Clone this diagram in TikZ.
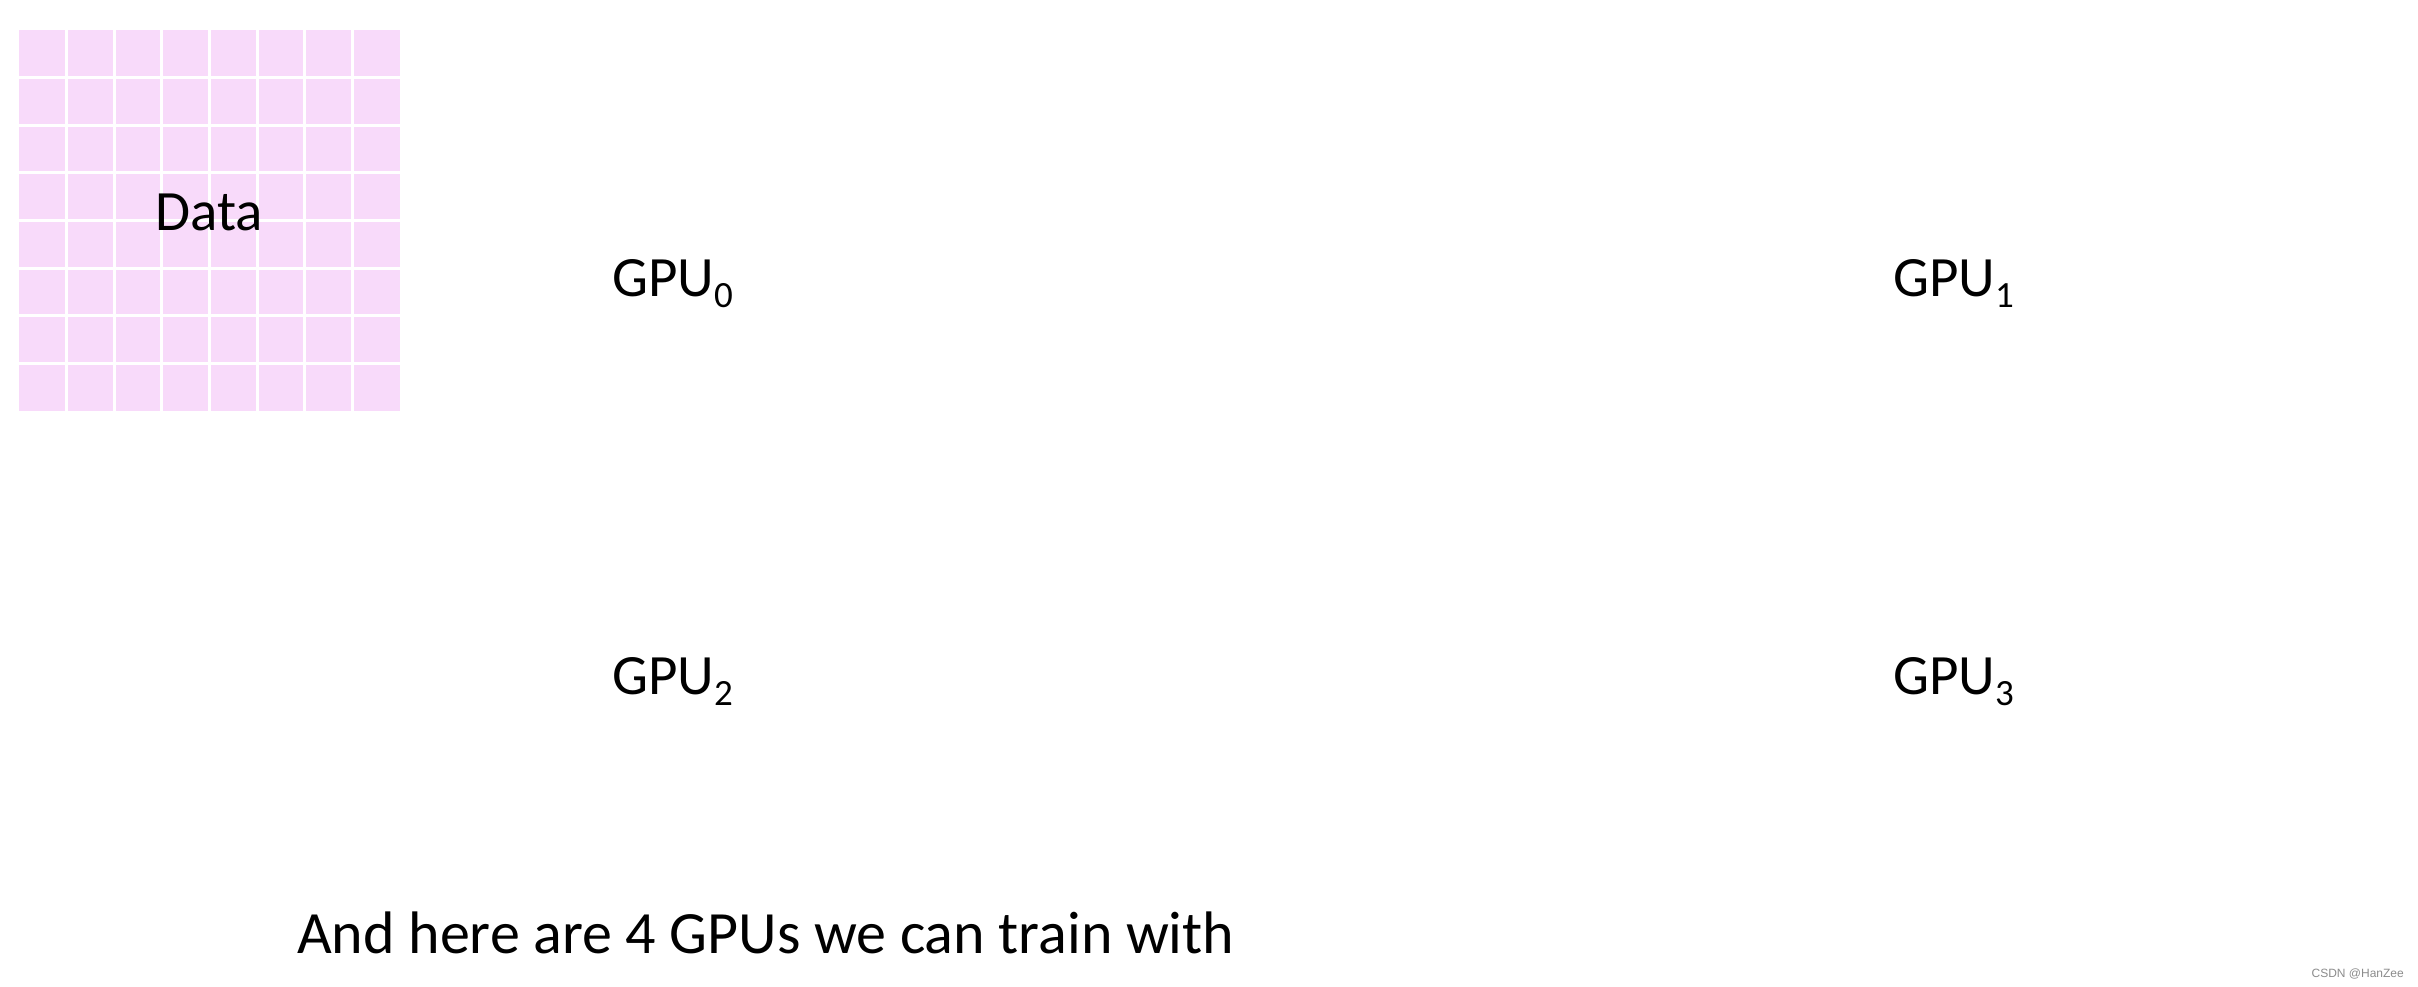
\documentclass[tikz,border=0pt]{standalone}
\usepackage{fontspec}
\setmainfont{Carlito}
\newfontfamily\wmfont{Liberation Sans}
\definecolor{datapink}{RGB}{248,218,250}
\definecolor{wmgray}{RGB}{140,140,140}
\newcommand{\gpulabel}[1]{GPU\raisebox{-11pt}{\fontsize{37}{40}\selectfont #1}}
\tikzset{
  gputxt/.style={anchor=base west, inner sep=0pt, font=\fontsize{57}{68}\selectfont},
  datatxt/.style={anchor=base, inner sep=0pt, font=\fontsize{57}{68}\selectfont},
  captxt/.style={anchor=base west, inner sep=0pt, font=\fontsize{60}{72}\selectfont},
  wmtxt/.style={anchor=base east, inner sep=0pt, text=wmgray, font=\wmfont\fontsize{12}{14}\selectfont},
}
\begin{document}
\begin{tikzpicture}[x=1pt,y=-1pt]
\useasboundingbox[fill=white] (0,0) rectangle (2418,986);
% data grid
\fill[datapink] (19,30) rectangle (400,411);
\foreach \k in {1,...,7}{
  \draw[white, line width=3pt] ({19+\k*47.625},30) -- ({19+\k*47.625},411);
  \draw[white, line width=3pt] (19,{30+\k*47.625}) -- (400,{30+\k*47.625});
}
\node[datatxt] (data) at (209.5,230) {Data};
\node[gputxt] (gpu0) at (612,296) {\gpulabel{0}};
\node[gputxt] (gpu1) at (1893,296) {\gpulabel{1}};
\node[gputxt] (gpu2) at (612,694) {\gpulabel{2}};
\node[gputxt] (gpu3) at (1893,694) {\gpulabel{3}};
\node[captxt] (caption) at (297,953) {And here are 4 GPUs we can train with};
\node[wmtxt] (wm) at (2404,977) {CSDN @HanZee};
\end{tikzpicture}
\end{document}
